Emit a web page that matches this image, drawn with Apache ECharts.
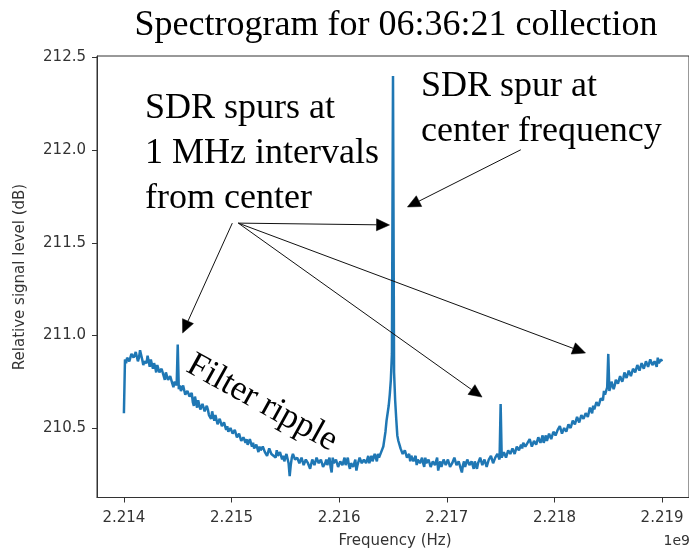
<!DOCTYPE html>
<html>
<head>
<meta charset="utf-8">
<script src="https://cdn.jsdelivr.net/npm/echarts@6/dist/echarts.min.js"></script>
<style>
  html, body { margin: 0; padding: 0; background: #ffffff; }
  #chart { width: 689px; height: 555px; }
</style>
</head>
<body>
<div id="chart"></div>
<script>
// Spectrum sweep: one sample every 10 kHz from 2.214 GHz (values in units of 1e9 Hz)
const freqStartGHz = 2.214;
const freqStepGHz = 0.00001;

// Relative signal level (dB) per sample, 20 samples (200 kHz) per row
const levelDb = [
  210.58, 210.87, 210.85, 210.88, 210.89, 210.86, 210.86, 210.90, 210.91, 210.88, 210.87, 210.91, 210.90, 210.86, 210.88, 210.92, 210.91, 210.87, 210.84, 210.86,
  210.87, 210.85, 210.89, 210.86, 210.83, 210.87, 210.86, 210.82, 210.85, 210.83, 210.80, 210.84, 210.83, 210.80, 210.79, 210.82, 210.81, 210.78, 210.76, 210.80,
  210.79, 210.76, 210.75, 210.78, 210.77, 210.74, 210.72, 210.75, 210.76, 210.73, 210.95, 210.71, 210.73, 210.70, 210.69, 210.73, 210.72, 210.68, 210.67, 210.70,
  210.70, 210.67, 210.66, 210.69, 210.64, 210.62, 210.67, 210.64, 210.61, 210.65, 210.64, 210.60, 210.60, 210.63, 210.63, 210.59, 210.59, 210.62, 210.60, 210.57,
  210.57, 210.55, 210.59, 210.56, 210.54, 210.57, 210.56, 210.52, 210.52, 210.55, 210.55, 210.51, 210.50, 210.53, 210.53, 210.49, 210.51, 210.48, 210.47, 210.50,
  210.50, 210.47, 210.46, 210.49, 210.48, 210.45, 210.44, 210.47, 210.47, 210.43, 210.42, 210.45, 210.46, 210.42, 210.44, 210.41, 210.40, 210.44, 210.43, 210.40,
  210.42, 210.39, 210.38, 210.41, 210.41, 210.37, 210.40, 210.38, 210.37, 210.40, 210.41, 210.37, 210.38, 210.35, 210.36, 210.39, 210.39, 210.36, 210.37, 210.35,
  210.36, 210.34, 210.38, 210.35, 210.34, 210.37, 210.37, 210.33, 210.35, 210.32, 210.33, 210.36, 210.37, 210.31, 210.24, 210.30, 210.34, 210.36, 210.36, 210.33,
  210.32, 210.34, 210.35, 210.31, 210.31, 210.34, 210.33, 210.30, 210.30, 210.33, 210.34, 210.31, 210.32, 210.28, 210.29, 210.33, 210.33, 210.30, 210.31, 210.34,
  210.34, 210.31, 210.30, 210.33, 210.32, 210.29, 210.28, 210.31, 210.33, 210.30, 210.31, 210.34, 210.29, 210.26, 210.34, 210.31, 210.30, 210.33, 210.32, 210.29,
  210.29, 210.32, 210.33, 210.30, 210.31, 210.34, 210.30, 210.32, 210.34, 210.30, 210.28, 210.31, 210.32, 210.29, 210.30, 210.33, 210.27, 210.30, 210.32, 210.34,
  210.33, 210.31, 210.30, 210.33, 210.34, 210.31, 210.32, 210.35, 210.31, 210.33, 210.35, 210.32, 210.32, 210.36, 210.34, 210.32, 210.36, 210.34, 210.35, 210.37,
  210.38, 210.40, 210.44, 210.48, 210.54, 210.58, 210.62, 210.68, 210.76, 210.90, 212.40, 210.80, 210.65, 210.55, 210.46, 210.43, 210.41, 210.39, 210.38, 210.36,
  210.35, 210.38, 210.37, 210.34, 210.34, 210.36, 210.32, 210.35, 210.35, 210.32, 210.33, 210.35, 210.30, 210.33, 210.34, 210.31, 210.32, 210.34, 210.31, 210.29,
  210.34, 210.31, 210.30, 210.33, 210.32, 210.29, 210.29, 210.32, 210.33, 210.30, 210.31, 210.34, 210.27, 210.30, 210.32, 210.29, 210.30, 210.33, 210.33, 210.30,
  210.30, 210.33, 210.32, 210.29, 210.28, 210.31, 210.31, 210.34, 210.33, 210.30, 210.29, 210.32, 210.31, 210.28, 210.26, 210.30, 210.32, 210.29, 210.30, 210.33,
  210.33, 210.30, 210.29, 210.32, 210.31, 210.28, 210.32, 210.30, 210.28, 210.31, 210.31, 210.34, 210.33, 210.30, 210.30, 210.33, 210.32, 210.29, 210.30, 210.33,
  210.32, 210.35, 210.34, 210.31, 210.31, 210.34, 210.33, 210.36, 210.35, 210.33, 210.63, 210.34, 210.34, 210.37, 210.37, 210.34, 210.35, 210.38, 210.38, 210.36,
  210.36, 210.39, 210.39, 210.36, 210.37, 210.40, 210.40, 210.38, 210.38, 210.41, 210.39, 210.42, 210.42, 210.40, 210.39, 210.42, 210.41, 210.44, 210.43, 210.40,
  210.41, 210.43, 210.44, 210.41, 210.42, 210.45, 210.45, 210.42, 210.43, 210.46, 210.42, 210.44, 210.46, 210.43, 210.44, 210.47, 210.47, 210.44, 210.45, 210.48,
  210.49, 210.46, 210.46, 210.49, 210.48, 210.51, 210.50, 210.47, 210.47, 210.50, 210.51, 210.48, 210.49, 210.52, 210.53, 210.50, 210.51, 210.54, 210.54, 210.52,
  210.53, 210.56, 210.56, 210.53, 210.54, 210.57, 210.58, 210.55, 210.55, 210.58, 210.59, 210.56, 210.57, 210.61, 210.60, 210.58, 210.62, 210.60, 210.61, 210.64,
  210.65, 210.62, 210.63, 210.66, 210.67, 210.65, 210.70, 210.68, 210.69, 210.72, 210.90, 210.70, 210.72, 210.75, 210.74, 210.71, 210.73, 210.76, 210.77, 210.74,
  210.75, 210.78, 210.78, 210.75, 210.77, 210.80, 210.80, 210.77, 210.78, 210.81, 210.81, 210.78, 210.79, 210.82, 210.83, 210.80, 210.81, 210.84, 210.84, 210.81,
  210.82, 210.85, 210.85, 210.82, 210.83, 210.86, 210.86, 210.83, 210.84, 210.87, 210.87, 210.84, 210.83, 210.86, 210.86, 210.83, 210.88, 210.85, 210.84, 210.87,
  210.86
];

// Axis tick positions
const xTicks = [2.214, 2.215, 2.216, 2.217, 2.218, 2.219];
const yTicks = [210.5, 211.0, 211.5, 212.0, 212.5];

const seriesData = levelDb.map((v, i) => [freqStartGHz + i * freqStepGHz, v]);

const chart = echarts.init(document.getElementById('chart'), null, { renderer: 'canvas' });

const axisColor = '#333333';
const sansFont = '"DejaVu Sans", sans-serif';
const serifFont = '"Liberation Serif", "Times New Roman", serif';

chart.setOption({
  animation: false,
  backgroundColor: '#ffffff',
  grid: {
    left: 97, right: -2, top: 56, bottom: 57.5,
    show: true, borderColor: axisColor, borderWidth: 1, backgroundColor: 'transparent'
  },
  xAxis: {
    type: 'value',
    min: 2.21375, max: 2.21925,
    splitLine: { show: false },
    axisLine: { show: true, onZero: false, lineStyle: { color: axisColor, width: 1 } },
    axisTick: { show: true, length: 5, lineStyle: { color: axisColor }, customValues: xTicks },
    axisLabel: {
      customValues: xTicks, margin: 13, color: axisColor, fontSize: 15, fontFamily: sansFont,
      formatter: v => v.toFixed(3)
    }
  },
  yAxis: {
    type: 'value',
    min: 210.125, max: 212.508,
    splitLine: { show: false },
    axisLine: { show: true, onZero: false, lineStyle: { color: axisColor, width: 1 } },
    axisTick: { show: true, length: 5, lineStyle: { color: axisColor }, customValues: yTicks },
    axisLabel: {
      customValues: yTicks, margin: 11, color: axisColor, fontSize: 15, fontFamily: sansFont,
      formatter: v => v.toFixed(1)
    }
  },
  series: [{
    type: 'line',
    data: seriesData,
    showSymbol: false,
    symbol: 'none',
    sampling: null,
    lineStyle: { color: '#1f77b4', width: 2.5 },
    z: 2
  }]
});

// Annotation arrows, tail -> head, in data coordinates [GHz, dB]
const arrows = [
  [[2.215007, 211.606], [2.2145453, 211.013]],
  [[2.2150628, 211.606], [2.2164677, 211.596]],
  [[2.2150628, 211.606], [2.2173272, 210.667]],
  [[2.2150628, 211.606], [2.2182884, 210.905]],
  [[2.2176876, 212.002], [2.216634, 211.693]]
];

function txt(text, x, y, opts) {
  return Object.assign({
    type: 'text', x: x, y: y, z: 10,
    style: Object.assign({
      text: text,
      fill: '#000000',
      font: '36px ' + serifFont,
      align: 'left', textAlign: 'left',
      verticalAlign: 'top', textVerticalAlign: 'top'
    }, opts.style || {})
  }, opts.el || {});
}

const graphics = [];

// Title
graphics.push(txt('Spectrogram for 06:36:21 collection', 396, 26, {
  style: { align: 'center', textAlign: 'center', verticalAlign: 'middle', textVerticalAlign: 'middle' }
}));

// Axis titles
graphics.push(txt('Frequency (Hz)', 395, 541, {
  style: { font: '15px ' + sansFont, fill: axisColor, align: 'center', textAlign: 'center', verticalAlign: 'middle', textVerticalAlign: 'middle' }
}));
graphics.push(txt('1e9', 690, 541, {
  style: { font: '14px ' + sansFont, fill: axisColor, align: 'right', textAlign: 'right', verticalAlign: 'middle', textVerticalAlign: 'middle' }
}));
graphics.push(txt('Relative signal level (dB)', 20, 277, {
  style: { font: '15px ' + sansFont, fill: axisColor, align: 'center', textAlign: 'center', verticalAlign: 'middle', textVerticalAlign: 'middle' },
  el: { rotation: Math.PI / 2 }
}));

// Text annotations
graphics.push(txt('SDR spurs at\n1 MHz intervals\nfrom center', 145, 86, {
  style: { lineHeight: 45 }
}));
graphics.push(txt('SDR spur at\ncenter frequency', 421, 64, {
  style: { lineHeight: 45 }
}));
graphics.push(txt('Filter ripple', 262, 403, {
  style: { font: '35px ' + serifFont, align: 'center', textAlign: 'center', verticalAlign: 'middle', textVerticalAlign: 'middle' },
  el: { rotation: -29 * Math.PI / 180 }
}));

// Arrows with filled triangular heads
const headLen = 13, headHalf = 6;
arrows.forEach(([tail, head]) => {
  const t = chart.convertToPixel({ gridIndex: 0 }, tail);
  const h = chart.convertToPixel({ gridIndex: 0 }, head);
  const dx = h[0] - t[0], dy = h[1] - t[1];
  const len = Math.sqrt(dx * dx + dy * dy);
  const ux = dx / len, uy = dy / len;
  const bx = h[0] - ux * headLen, by = h[1] - uy * headLen;
  const nx = -uy, ny = ux;
  graphics.push({
    type: 'line', z: 9,
    shape: { x1: t[0], y1: t[1], x2: bx, y2: by },
    style: { stroke: '#111111', lineWidth: 1 }
  });
  graphics.push({
    type: 'polygon', z: 9,
    shape: { points: [[h[0], h[1]], [bx + nx * headHalf, by + ny * headHalf], [bx - nx * headHalf, by - ny * headHalf]] },
    style: { fill: '#000000', stroke: '#000000', lineWidth: 0.5 }
  });
});

chart.setOption({ graphic: graphics });
</script>
</body>
</html>
